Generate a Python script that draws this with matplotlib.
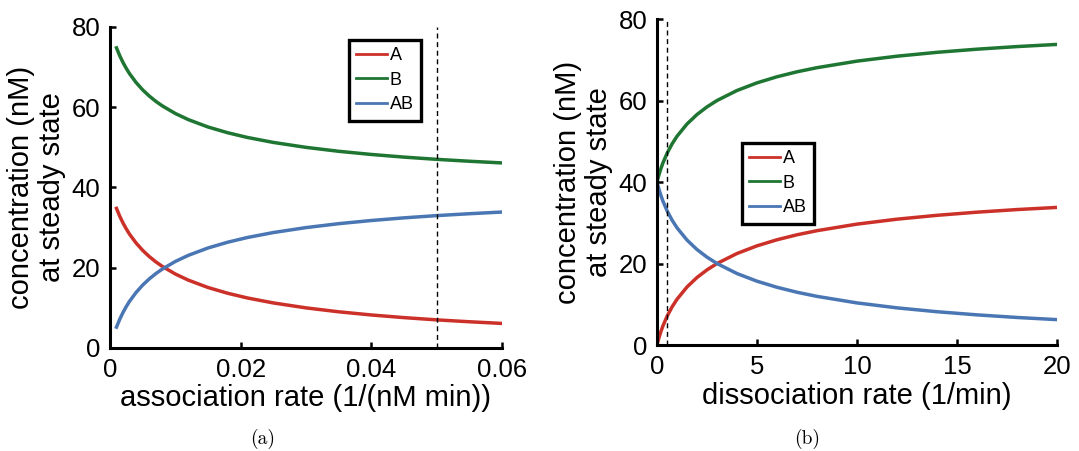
import matplotlib
matplotlib.use("Agg")
import matplotlib.pyplot as plt

plt.rcParams['font.family'] = ['Liberation Sans', 'DejaVu Sans']

# steady state concentrations (nM)
kon = [0.001, 0.0015, 0.002, 0.0025, 0.003, 0.004, 0.005, 0.006, 0.007, 0.008,
       0.010, 0.012, 0.015, 0.018, 0.021, 0.025, 0.030, 0.035, 0.040, 0.045,
       0.050, 0.055, 0.060]
a_kon = [34.79, 32.83, 31.14, 29.67, 28.36, 26.16, 24.34, 22.81, 21.49, 20.35,
         18.44, 16.91, 15.08, 13.65, 12.48, 11.23, 10.00, 9.02, 8.23, 7.57,
         7.01, 6.54, 6.12]
b_kon = [74.79, 72.83, 71.14, 69.67, 68.36, 66.16, 64.34, 62.81, 61.49, 60.35,
         58.44, 56.91, 55.08, 53.65, 52.48, 51.23, 50.00, 49.02, 48.23, 47.57,
         47.01, 46.54, 46.12]
ab_kon = [5.21, 7.17, 8.86, 10.33, 11.64, 13.84, 15.66, 17.19, 18.51, 19.65,
          21.56, 23.09, 24.92, 26.35, 27.52, 28.77, 30.00, 30.98, 31.77, 32.43,
          32.99, 33.46, 33.88]

koff = [0, 0.01, 0.02, 0.05, 0.1, 0.2, 0.3, 0.5, 0.75, 1, 1.5, 2, 2.5, 3, 4, 5,
        6, 7, 8, 10, 12, 14, 16, 18, 20]
a_koff = [0.00, 0.20, 0.39, 0.95, 1.83, 3.38, 4.73, 7.01, 9.33, 11.23, 14.24,
          16.57, 18.44, 20.00, 22.46, 24.34, 25.83, 27.05, 28.06, 29.67, 30.88,
          31.83, 32.60, 33.24, 33.77]
b_koff = [40.00, 40.20, 40.39, 40.95, 41.83, 43.38, 44.73, 47.01, 49.33, 51.23,
          54.24, 56.57, 58.44, 60.00, 62.46, 64.34, 65.83, 67.05, 68.06, 69.67,
          70.88, 71.83, 72.60, 73.24, 73.77]
ab_koff = [40.00, 39.80, 39.61, 39.05, 38.17, 36.62, 35.27, 32.99, 30.67, 28.77,
           25.76, 23.43, 21.56, 20.00, 17.54, 15.66, 14.17, 12.95, 11.94, 10.33,
           9.12, 8.17, 7.40, 6.76, 6.23]

kon_nominal = 0.05
koff_nominal = 0.5

red = '#cc3129'
green = '#1e7632'
blue = '#4a77b4'

fig = plt.figure(figsize=(10.79, 4.51), dpi=100)
ax1 = fig.add_axes([0.1019, 0.2284, 0.3633, 0.7118])
ax2 = fig.add_axes([0.6089, 0.2350, 0.3707, 0.7228])


def style(ax):
    for s in ['top', 'right']:
        ax.spines[s].set_visible(False)
    for s in ['left', 'bottom']:
        ax.spines[s].set_linewidth(2.2)
    ax.tick_params(direction='in', length=4, width=1.8, labelsize=18.5, pad=7)
    ax.set_ylim(0, 80)
    ax.set_yticks([0, 20, 40, 60, 80])
    ax.set_ylabel('concentration (nM)\nat steady state', fontsize=21,
                  linespacing=1.15, labelpad=4)


def legend(ax, anchor):
    leg = ax.legend(loc='upper left', bbox_to_anchor=anchor,
                    bbox_transform=fig.transFigure, fontsize=13,
                    handlelength=1.7, handletextpad=0.15, borderpad=0.4,
                    labelspacing=0.42, borderaxespad=0, fancybox=False,
                    framealpha=1, edgecolor='black')
    leg.get_frame().set_linewidth(2.4)
    for ln in leg.get_lines():
        ln.set_linewidth(2.0)


# panel (a): vary association rate
ax1.plot(kon, a_kon, color=red, lw=2.5, label='A')
ax1.plot(kon, b_kon, color=green, lw=2.5, label='B')
ax1.plot(kon, ab_kon, color=blue, lw=2.5, label='AB')
ax1.axvline(kon_nominal, color='k', lw=1.0, ls=(0, (3.6, 2.6)))
ax1.set_xlim(0, 0.06)
ax1.set_xticks([0, 0.02, 0.04, 0.06])
ax1.set_xticklabels(['0', '0.02', '0.04', '0.06'])
ax1.set_xlabel('association rate (1/(nM min))', fontsize=21, labelpad=2)
style(ax1)
legend(ax1, (0.3234, 0.9113))

# panel (b): vary dissociation rate
ax2.plot(koff, a_koff, color=red, lw=2.5, label='A')
ax2.plot(koff, b_koff, color=green, lw=2.5, label='B')
ax2.plot(koff, ab_koff, color=blue, lw=2.5, label='AB')
ax2.axvline(koff_nominal, color='k', lw=1.0, ls=(0, (3.6, 2.6)))
ax2.set_xlim(0, 20)
ax2.set_xticks([0, 5, 10, 15, 20])
ax2.set_xlabel('dissociation rate (1/min)', fontsize=21, labelpad=2)
style(ax2)
legend(ax2, (0.6877, 0.6829))

fig.text(0.2437, 0.026, '(a)', fontfamily='cmr10', fontsize=14,
         ha='center', va='center')
fig.text(0.7479, 0.026, '(b)', fontfamily='cmr10', fontsize=14,
         ha='center', va='center')

fig.savefig('out.png', dpi=100)
